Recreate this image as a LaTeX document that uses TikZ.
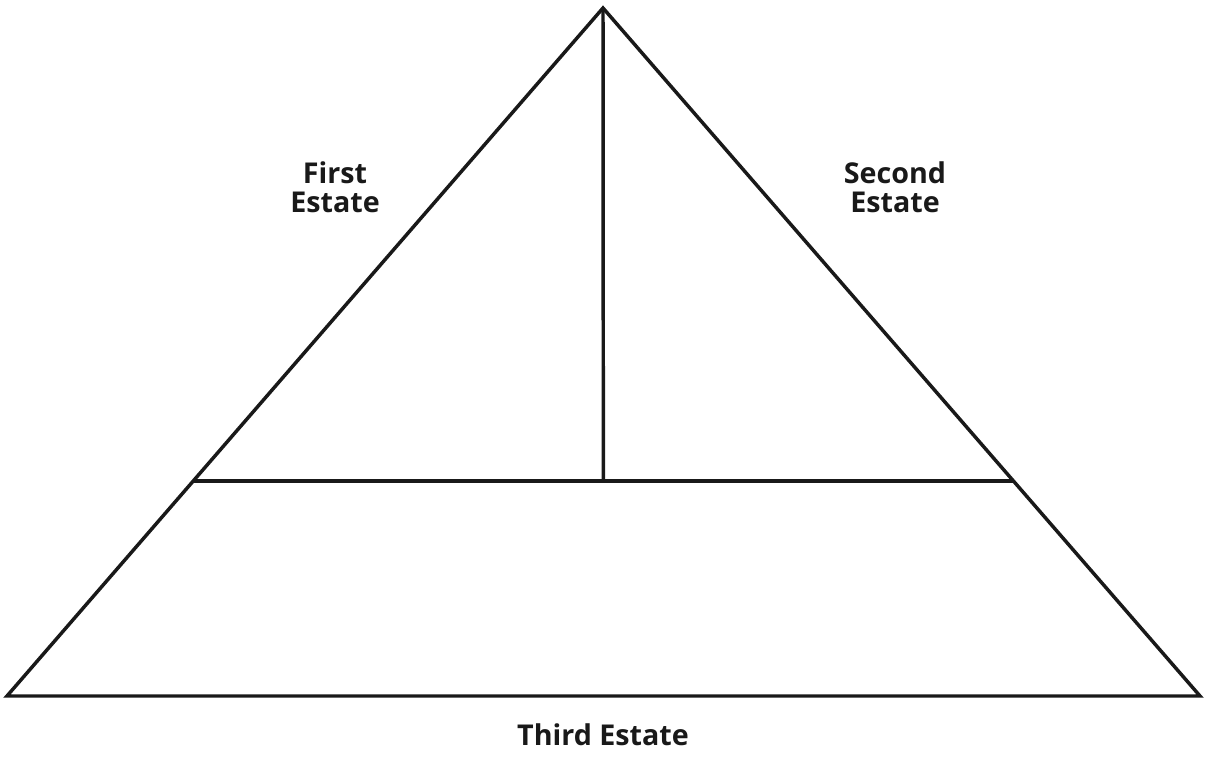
\documentclass[tikz,border=0pt]{standalone}
\usepackage{fontspec}
\setmainfont{Open Sans}
\usetikzlibrary{calc}

\tikzset{
  estate/.style={font=\bfseries\fontsize{21.5}{22}\selectfont, align=center, text=black!90},
  edge/.style={line width=2.6pt, black!90}
}

\begin{document}
\begin{tikzpicture}[x=0.75pt, y=-0.75pt]
  \useasboundingbox (0,0) rectangle (1207,760);
  % corners of the pyramid
  \coordinate (top) at (603,8);
  \coordinate (bl) at (7,696);
  \coordinate (br) at (1200,696);
  \coordinate (ml) at ($(bl)!0.3125!(top)$);
  \coordinate (mr) at ($(br)!0.3125!(top)$);
  \coordinate (mid) at ($(ml)!0.5!(mr)$);

  \draw[edge, line join=miter] (top) -- (bl) -- (br) -- cycle;
  \draw[edge] (ml) -- (mr);
  \draw[edge] (top) -- (mid);

  \node[estate] (first) at (335,187) {First\\Estate};
  \node[estate] (second) at (895,187) {Second\\Estate};
  \node[estate] (third) at (603,735) {Third Estate};
\end{tikzpicture}
\end{document}
